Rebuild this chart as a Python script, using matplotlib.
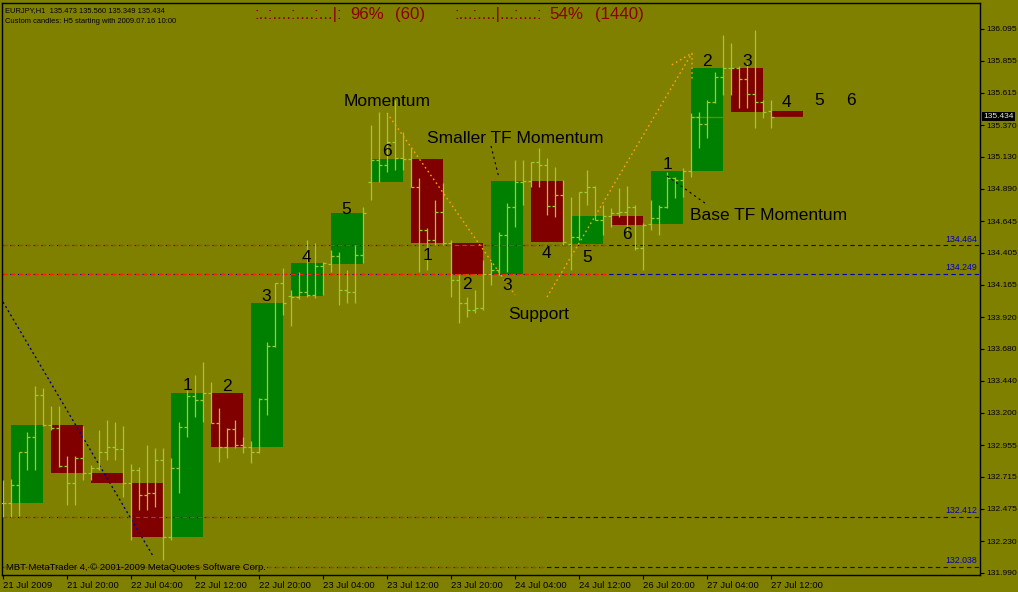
import matplotlib
matplotlib.use("Agg")
import matplotlib.pyplot as plt

plt.rcParams['font.family'] = ['Liberation Sans', 'DejaVu Sans']

# hourly bars (EURJPY H1)
h1_open = [132.518, 132.518, 132.654, 132.903, 133.016, 133.333, 133.107, 133.084, 132.797, 132.669,
           132.857, 132.744, 132.782, 132.903, 132.940, 132.925, 132.669, 132.767, 132.578, 132.593,
           132.842, 132.261, 132.782, 133.091, 133.325, 133.295, 133.348, 133.122, 132.940, 133.076,
           132.956, 132.940, 132.903, 133.303, 133.703, 134.178, 134.080, 134.072, 134.110, 134.088,
           134.307, 134.322, 134.382, 134.125, 134.110, 134.390, 134.940, 135.106, 135.069, 135.242,
           135.122, 135.114, 134.903, 134.578, 134.503, 134.714, 134.480, 134.201, 134.027, 133.974,
           133.989, 134.246, 134.276, 134.540, 134.752, 134.940, 134.948, 135.091, 135.069, 134.759,
           134.842, 134.473, 134.525, 134.865, 134.903, 134.654, 134.684, 134.706, 134.714, 134.752,
           134.442, 134.624, 134.669, 134.752, 134.971, 134.956, 135.023, 135.431, 135.378, 135.544,
           135.733, 135.801, 135.801, 135.718, 135.605, 135.544, 135.473]
h1_high = [132.691, 132.699, 132.903, 133.054, 133.401, 133.386, 133.250, 133.250, 132.873, 132.873,
           133.099, 132.805, 133.069, 133.144, 133.129, 133.099, 132.812, 132.789, 132.956, 132.933,
           132.933, 132.857, 133.129, 133.371, 133.484, 133.582, 133.431, 133.235, 133.084, 133.144,
           133.016, 132.986, 133.310, 133.733, 134.178, 134.291, 134.125, 134.261, 134.503, 134.480,
           134.337, 134.427, 134.412, 134.276, 134.465, 134.752, 135.371, 135.469, 135.461, 135.559,
           135.318, 135.197, 134.971, 134.593, 134.805, 134.933, 134.503, 134.239, 134.072, 134.125,
           134.352, 134.337, 134.563, 134.782, 135.106, 135.106, 135.091, 135.197, 135.122, 135.054,
           134.956, 134.827, 134.865, 135.031, 134.910, 134.767, 134.744, 134.895, 134.910, 134.767,
           134.631, 134.805, 134.767, 135.016, 134.978, 135.046, 135.461, 135.469, 135.559, 135.771,
           136.050, 135.989, 135.816, 135.838, 136.088, 135.559, 135.560]
h1_low = [132.412, 132.412, 132.420, 132.767, 132.767, 133.099, 133.069, 132.789, 132.503, 132.503,
          132.691, 132.691, 132.767, 132.842, 132.842, 132.563, 132.239, 132.465, 132.465, 132.488,
          132.088, 132.239, 132.593, 133.016, 133.167, 133.129, 133.122, 132.827, 132.857, 132.933,
          132.895, 132.820, 132.895, 133.182, 133.695, 133.937, 133.854, 134.057, 134.072, 134.065,
          134.088, 134.261, 134.012, 134.027, 134.027, 134.329, 134.805, 134.940, 135.016, 135.031,
          135.031, 134.903, 134.261, 134.276, 134.465, 134.465, 134.072, 133.876, 133.921, 133.952,
          133.974, 134.163, 134.239, 134.261, 134.601, 134.767, 134.903, 134.903, 134.691, 134.676,
          134.465, 134.276, 134.503, 134.767, 134.654, 134.540, 134.601, 134.676, 134.556, 134.427,
          134.276, 134.578, 134.540, 134.744, 134.820, 134.827, 134.978, 135.197, 135.272, 135.537,
          135.597, 135.597, 135.499, 135.499, 135.348, 135.424, 135.349]
h1_close = [132.518, 132.654, 132.903, 133.016, 133.333, 133.107, 133.084, 132.797, 132.669, 132.857,
            132.744, 132.782, 132.903, 132.940, 132.925, 132.669, 132.767, 132.578, 132.593, 132.842,
            132.261, 132.782, 133.091, 133.325, 133.295, 133.348, 133.122, 132.940, 133.076, 132.956,
            132.940, 132.903, 133.303, 133.703, 134.178, 134.027, 134.072, 134.110, 134.088, 134.307,
            134.329, 134.382, 134.125, 134.110, 134.390, 134.706, 135.106, 135.069, 135.242, 135.122,
            135.114, 134.903, 134.578, 134.503, 134.714, 134.480, 134.201, 134.027, 133.974, 133.989,
            134.246, 134.276, 134.540, 134.752, 134.940, 134.948, 135.091, 135.069, 134.759, 134.842,
            134.488, 134.525, 134.865, 134.903, 134.654, 134.684, 134.706, 134.714, 134.752, 134.442,
            134.616, 134.669, 134.752, 134.971, 134.956, 135.023, 135.431, 135.378, 135.544, 135.733,
            135.801, 135.801, 135.718, 135.605, 135.544, 135.469, 135.434]

# custom H5 candles (open / close), each spanning 5 hourly bars
h5_open = [132.518, 133.107, 132.744, 132.669, 132.261, 133.348, 132.940, 134.080, 134.322, 134.940,
           135.114, 134.480, 134.246, 134.948, 134.473, 134.684, 134.624, 135.023, 135.801, 135.473]
h5_close = [133.107, 132.744, 132.669, 132.261, 133.348, 132.940, 134.027, 134.329, 134.706, 135.114,
            134.480, 134.246, 134.948, 134.488, 134.684, 134.616, 135.023, 135.801, 135.469, 135.434]

# count labels over the H5 candles
count_text = ['1', '2', '3', '4', '5', '6', '1', '2', '3', '4', '5', '6', '1', '2', '3', '4', '5', '6']
count_x = [23, 28, 32.9, 37.9, 42.9, 48, 53, 58, 63, 67.9, 73, 78, 83, 88, 93, 97.9, 102, 106]
count_y = [133.371, 133.363, 134.042, 134.337, 134.699, 135.137, 134.352, 134.133, 134.125, 134.367,
           134.337, 134.510, 135.038, 135.816, 135.816, 135.506, 135.521, 135.521]

levels = [134.464, 134.249, 132.412, 132.038]
level_red_end = [75.5, 75.5, 68.0, 68.0]
bid = 135.434

price_ticks = [136.095, 135.855, 135.615, 135.370, 135.130, 134.890, 134.645, 134.405, 134.165,
               133.920, 133.680, 133.440, 133.200, 132.955, 132.715, 132.475, 132.230, 131.990]
time_pos = [0, 8, 16, 24, 32, 40, 48, 56, 64, 72, 80, 88, 96]
time_labels = ['21 Jul 2009', '21 Jul 20:00', '22 Jul 04:00', '22 Jul 12:00', '22 Jul 20:00',
               '23 Jul 04:00', '23 Jul 12:00', '23 Jul 20:00', '24 Jul 04:00', '24 Jul 12:00',
               '26 Jul 20:00', '27 Jul 04:00', '27 Jul 12:00']

BG = '#808000'
W, H = 1018, 592

fig = plt.figure(figsize=(W / 100, H / 100), dpi=100, facecolor=BG)
ax = fig.add_axes([2 / W, 17 / H, 978 / W, 572 / H], facecolor=BG)

# H5 boxes
for k in range(len(h5_open)):
    o, c = h5_open[k], h5_close[k]
    col = '#008000' if c >= o else '#800000'
    ax.bar(5 * k + 3, abs(c - o), width=4, bottom=min(o, c), color=col, zorder=1, linewidth=0)

# bid line (background colour, only seen over the boxes)
ax.axhline(bid, color=BG, lw=0.9, zorder=1.5)

# H1 OHLC bars
xs = list(range(len(h1_open)))
bar_col = '#9acd32'
ax.vlines(xs, h1_low, h1_high, color=bar_col, lw=0.9, zorder=3)
ax.hlines(h1_open, [x - 0.4 for x in xs], xs, color=bar_col, lw=0.9, zorder=3)
ax.hlines(h1_close, xs, [x + 0.4 for x in xs], color=bar_col, lw=0.9, zorder=3)

# level lines
for lv, xe in zip(levels, level_red_end):
    ax.axhline(lv, color='#0000b0', lw=0.8, linestyle=(0, (4, 3)), zorder=2)
    ax.plot([-1, xe], [lv, lv], color='#ff2000', lw=0.8, linestyle=(3.5, (4, 3)), zorder=2)
    ax.text(121.8, lv + 0.012, f'{lv:.3f}', color='#0000c0', fontsize=6.3, ha='right', va='bottom')

# trend lines
ax.plot([0, 18.75], [134.035, 132.118], color='#000090', lw=1, linestyle=(0, (1.5, 2)), zorder=2)
ax.plot([48, 64], [135.461, 134.088], color='#ffa500', lw=1, linestyle=(0, (1.2, 2.2)), zorder=4)
ax.plot([68, 86.125], [134.072, 135.913], color='#ffa500', lw=1, linestyle=(0, (1.2, 2.2)), zorder=4)
ax.plot([83.6, 86.125, 86.125], [135.824, 135.913, 135.710], color='#ffa500', lw=1,
        linestyle=(0, (1.2, 2.2)), zorder=4)
ax.plot([61, 62], [135.212, 134.971], color='black', lw=0.8, linestyle=(0, (2, 3)), zorder=4)
ax.plot([83, 87.9], [134.986, 134.774], color='black', lw=0.8, linestyle=(0, (2, 3)), zorder=4)

# annotations
for t, x, y in zip(count_text, count_x, count_y):
    ax.text(x, y, t, fontsize=12.5, ha='center', va='baseline', color='black', zorder=5)
ax.text(48, 135.514, 'Momentum', fontsize=12.5, ha='center', va='baseline', zorder=5)
ax.text(64, 135.235, 'Smaller TF Momentum', fontsize=12.5, ha='center', va='baseline', zorder=5)
ax.text(67, 133.906, 'Support', fontsize=12.5, ha='center', va='baseline', zorder=5)
ax.text(85.9, 134.654, 'Base TF Momentum', fontsize=12.5, ha='left', va='baseline', zorder=5)

ax.set_xlim(-0.125, 122.125)
ax.set_ylim(131.9745, 136.291)

ax.yaxis.tick_right()
ax.set_yticks(price_ticks)
ax.set_yticklabels([f'{p:.3f}' for p in price_ticks])
ax.tick_params(axis='y', length=3, width=0.8, pad=1.5, labelsize=6.1, colors='black')
ax.set_xticks(time_pos)
ax.set_xticklabels(time_labels)
ax.tick_params(axis='x', length=3, width=0.8, pad=1.5, labelsize=6.8, colors='black')
for lbl in ax.get_xticklabels():
    lbl.set_ha('left')
for s in ax.spines.values():
    s.set_color('black')
    s.set_linewidth(1)

# current price tag
ax.text(1.003, bid, '135.434', transform=ax.get_yaxis_transform(), fontsize=6.0, color='#e8e8c8',
        ha='left', va='center', bbox=dict(facecolor='black', edgecolor='none', pad=1.0), zorder=6,
        clip_on=False)

# header texts
fig.text(5 / W, 1 - 12 / H, 'EURJPY,H1  135.473 135.560 135.349 135.434', fontsize=5.4, color='black')
fig.text(5 / W, 1 - 23 / H, 'Custom candles: H5 starting with 2009.07.16 10:00', fontsize=5.4,
         color='black')
red = '#8b0000'
fig.text(254 / W, 1 - 19 / H, ':..:....:....:...|:', fontsize=12.2, color=red)
fig.text(350 / W, 1 - 19 / H, '96%', fontsize=12.2, color=red)
fig.text(395 / W, 1 - 19 / H, '(60)', fontsize=12.2, color=red)
fig.text(454 / W, 1 - 19 / H, ':...:....|...:....:', fontsize=12.2, color=red)
fig.text(549 / W, 1 - 19 / H, '54%', fontsize=12.2, color=red)
fig.text(595 / W, 1 - 19 / H, '(1440)', fontsize=12.2, color=red)
fig.text(6 / W, 1 - 570 / H, 'MBT MetaTrader 4, © 2001-2009 MetaQuotes Software Corp.', fontsize=6.8,
         color='black')

fig.savefig('out.png', dpi=100, facecolor=BG)
